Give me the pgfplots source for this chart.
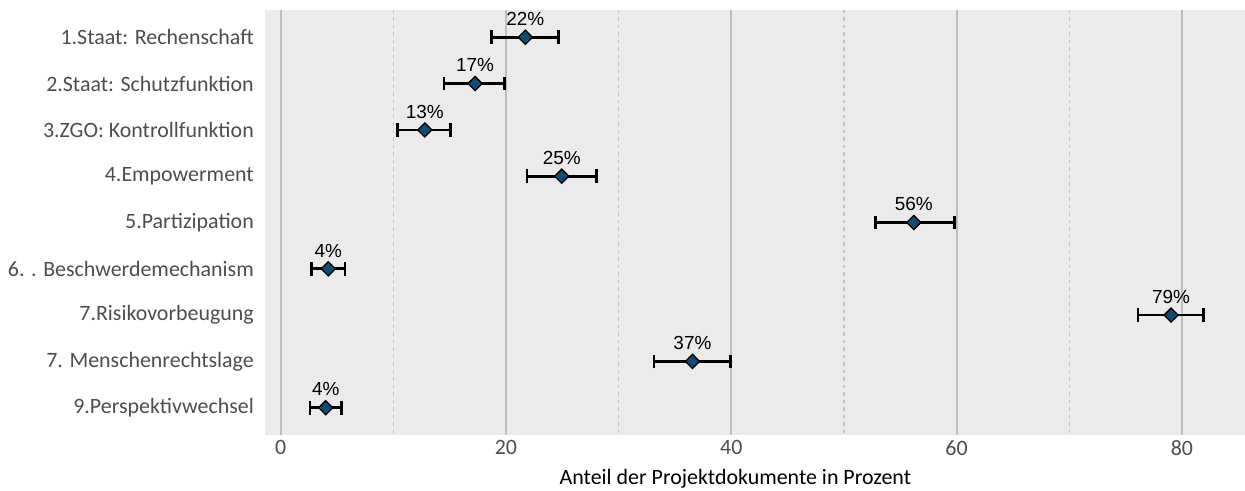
\documentclass[border=0pt]{standalone}
\usepackage{fontspec}
\setmainfont{Carlito}
\newfontfamily\arialf{Liberation Sans}
\usepackage{pgfplots}
\usepackage{pgfplotstable}
\pgfplotsset{compat=1.18}
\usetikzlibrary{calc}
\definecolor{panelbg}{HTML}{EBEBEB}
\definecolor{majgrid}{HTML}{BEBEBE}
\definecolor{mingrid}{HTML}{C4C4C4}
\definecolor{ptfill}{RGB}{17,74,114}
\definecolor{txtgray}{HTML}{4D4D4D}
\pgfplotstableread{
y x ep em lab
1 21.72 2.93 2.98 22
2 17.26 2.64 2.76 17
3 12.80 2.30 2.45 13
4 24.95 3.11 3.08 25
5 56.20 3.60 3.40 56
6 4.23 1.48 1.48 4
7 79.04 2.86 2.94 79
8 36.55 3.35 3.40 37
9 4.00 1.40 1.40 4
}\datatab
\begin{document}
\begin{tikzpicture}
\begin{axis}[
  scale only axis,
  width=980bp, height=426bp,
  xmin=-1.39, xmax=85.6,
  ymin=0.4, ymax=9.6, y dir=reverse,
  axis background/.style={fill=panelbg},
  axis line style={draw=none},
  xtick={0,20,40,60,80},
  minor xtick={10,30,50,70},
  ytick={1,...,9},
  yticklabels={1.Staat: Rechenschaft,2.Staat: Schutzfunktion,3.ZGO: Kontrollfunktion,4.Empowerment,5.Partizipation,{6. . Beschwerdemechanism},7.Risikovorbeugung,7. Menschenrechtslage,9.Perspektivwechsel},
  tick style={draw=none},
  minor tick style={draw=none},
  xmajorgrids, xminorgrids,
  major grid style={draw=majgrid, line width=1.8bp},
  minor grid style={draw=mingrid, line width=1.4bp, dash pattern=on 3.5bp off 4bp},
  /pgf/number format/assume math mode=true,
  tick label style={font=\fontsize{22}{26}\selectfont, text=txtgray, inner sep=0pt},
  yticklabel style={anchor=east, xshift=-11bp},
  xticklabel style={anchor=north, yshift=-4.5bp},
  xlabel={Anteil der Projektdokumente in Prozent},
  xlabel style={at={(axis description cs:0.48,0)}, anchor=north, inner sep=0pt, yshift=-33.5bp, font=\fontsize{22}{26}\selectfont, text=black},
  clip=false,
]
\addplot[only marks, mark=none,
  error bars/.cd, x dir=both, x explicit,
  error bar style={line width=2.7bp, black},
  error mark options={black, line width=2.7bp, mark size=6.8bp, rotate=90}]
  table[x=x, y=y, x error plus=ep, x error minus=em]{\datatab};
\addplot[only marks, mark=square*, mark size=5bp,
  mark options={rotate=45, fill=ptfill, draw=black, line width=1.3bp},
  point meta=explicit symbolic,
  nodes near coords={\pgfplotspointmeta\%},
  every node near coord/.append style={anchor=south, inner sep=0pt, yshift=11bp, font=\arialf\fontsize{19}{22}\selectfont, text=black}]
  table[x=x, y=y, meta=lab]{\datatab};
\end{axis}
\pgfresetboundingbox
\useasboundingbox ($(current axis.south west)+(-265bp,-55.3bp)$) rectangle ($(current axis.north east)+(0,9.5bp)$);
\end{tikzpicture}
\end{document}
